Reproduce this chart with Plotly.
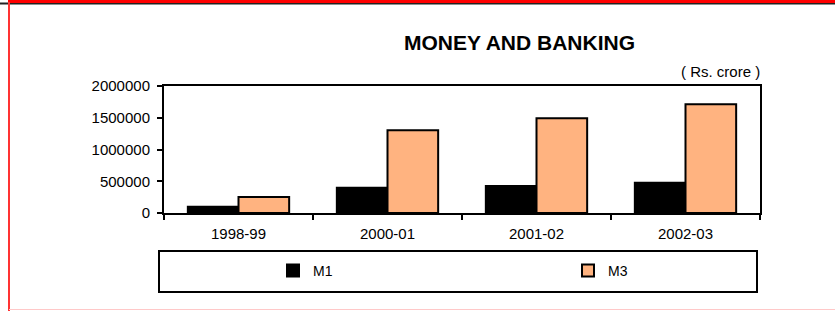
import plotly.graph_objects as go

categories = ["1998-99", "2000-01", "2001-02", "2002-03"]
m1_values = [99000, 398000, 425000, 477000]
m3_values = [252000, 1302000, 1491000, 1712000]
y_ticks = [0, 500000, 1000000, 1500000, 2000000]

W, H = 835, 311
L, R, T, B = 164, 75, 86, 98
pw = W - L - R
ph = H - T - B

def px(x):
    return (x - L) / pw

def py(y):
    return (H - B - y) / ph

FONT = "Arial, Liberation Sans, sans-serif"

fig = go.Figure()
fig.add_trace(go.Bar(name="M1", x=categories, y=m1_values, legend="legend", showlegend=True,
                     marker=dict(color="#000000", line=dict(color="#000000", width=2))))
fig.add_trace(go.Bar(name="M3", x=categories, y=m3_values, legend="legend2", showlegend=True,
                     marker=dict(color="#FFB380", line=dict(color="#000000", width=2))))

shapes = [
    dict(type="line", xref="paper", yref="paper", x0=px(0), x1=px(W), y0=py(3.5), y1=py(3.5),
         line=dict(color="#222222", width=2)),
    dict(type="line", xref="paper", yref="paper", x0=px(8), x1=px(W), y0=py(1.5), y1=py(1.5),
         line=dict(color="#FF0000", width=3)),
    dict(type="line", xref="paper", yref="paper", x0=px(9), x1=px(9), y0=py(2), y1=py(H),
         line=dict(color="#FF3333", width=2)),
    dict(type="line", xref="paper", yref="paper", x0=px(9), x1=px(W), y0=py(309.5), y1=py(309.5),
         line=dict(color="#FFC8C8", width=1)),
    dict(type="rect", xref="paper", yref="paper", x0=px(159), x1=px(757), y0=py(251), y1=py(292),
         line=dict(color="#000000", width=2)),
]

legend_style = dict(orientation="h", yanchor="middle", xanchor="left", visible=True,
                    font=dict(size=14, family=FONT), bgcolor="rgba(0,0,0,0)")

fig.update_layout(
    width=W, height=H,
    margin=dict(l=L, r=R, t=T, b=B),
    paper_bgcolor="white", plot_bgcolor="white",
    showlegend=True,
    barmode="group", bargap=0.32, bargroupgap=0,
    font=dict(family=FONT, size=15, color="#000000"),
    shapes=shapes,
    annotations=[
        dict(text="<b>MONEY AND BANKING</b>", xref="paper", yref="paper",
             x=px(519), y=py(43), xanchor="center", yanchor="middle",
             showarrow=False, font=dict(size=21, family=FONT)),
        dict(text="( Rs. crore )", xref="paper", yref="paper",
             x=px(762), y=py(71), xanchor="right", yanchor="middle",
             showarrow=False, font=dict(size=15, family=FONT)),
    ],
    legend=dict(x=px(273), y=py(271), **legend_style),
    legend2=dict(x=px(568), y=py(271), **legend_style),
    xaxis=dict(type="category", showline=True, linecolor="#000000", linewidth=2, mirror=True,
               ticks="outside", tickson="boundaries", ticklen=5, tickwidth=2, tickcolor="#000000",
               ticklabelstandoff=6, tickfont=dict(size=15), fixedrange=True),
    yaxis=dict(range=[0, 2000000], tickvals=y_ticks, ticktext=[str(v) for v in y_ticks],
               showline=True, linecolor="#000000", linewidth=2, mirror=True,
               ticks="outside", ticklen=5, tickwidth=2, tickcolor="#000000",
               ticklabelstandoff=4,
               showgrid=False, zeroline=False, tickfont=dict(size=15), fixedrange=True),
)

fig.write_html("out.html", config={"displayModeBar": False},
               post_script="document.body.style.margin='0';")
